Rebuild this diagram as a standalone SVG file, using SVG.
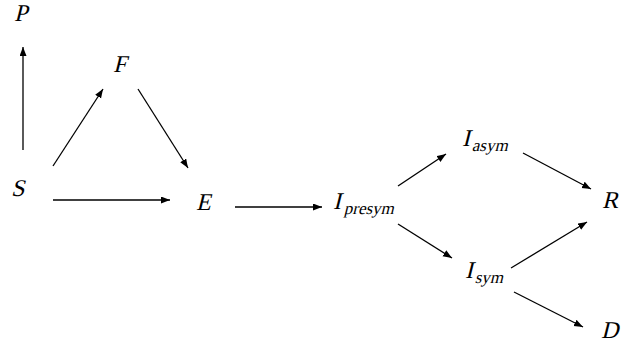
<svg xmlns="http://www.w3.org/2000/svg" width="624" height="348" viewBox="0 0 624 348">
<style>
.t{font-family:'Liberation Serif','Times New Roman',serif;font-size:24px;fill:#000}
.s{font-size:17px}
.c line{stroke:#000;stroke-width:1.3;marker-end:url(#ah)}
</style>
<defs>
<marker id="ah" markerUnits="userSpaceOnUse" markerWidth="10" markerHeight="8" refX="9" refY="3.5" orient="auto">
<path d="M0,0 L9,3.5 L0,7 z" fill="#000"/>
</marker>
</defs>
<rect width="624" height="348" fill="#fff"/>
<g class="c" id="connectors">
<line x1="23" y1="150" x2="23" y2="47"/>
<line x1="53" y1="166" x2="103" y2="89"/>
<line x1="138" y1="89" x2="188" y2="168"/>
<line x1="53" y1="200" x2="170" y2="200"/>
<line x1="235" y1="207" x2="322" y2="207"/>
<line x1="398" y1="186" x2="446" y2="154"/>
<line x1="523" y1="153" x2="591" y2="189"/>
<line x1="398" y1="224" x2="452" y2="258"/>
<line x1="511" y1="268" x2="587" y2="222"/>
<line x1="514" y1="292" x2="583" y2="327"/>
</g>
<g id="P" transform="translate(14,21) skewX(-14)"><text class="t">P</text></g>
<g id="F" transform="translate(113,72) skewX(-14)"><text class="t">F</text></g>
<g id="S" transform="translate(11,196) skewX(-14)"><text class="t">S</text></g>
<g id="E" transform="translate(196,210) skewX(-14)"><text class="t">E</text></g>
<g id="Ipresym" transform="translate(333,209) skewX(-14)"><text class="t">I<tspan class="s" dx="4" dy="5">presym</tspan></text></g>
<g id="Iasym" transform="translate(462,146) skewX(-14)"><text class="t">I<tspan class="s" dx="3" dy="5">asym</tspan></text></g>
<g id="Isym" transform="translate(465,278) skewX(-14)"><text class="t">I<tspan class="s" dx="3" dy="5">sym</tspan></text></g>
<g id="R" transform="translate(602,208) skewX(-14)"><text class="t">R</text></g>
<g id="D" transform="translate(601,338) skewX(-14)"><text class="t">D</text></g>
</svg>
